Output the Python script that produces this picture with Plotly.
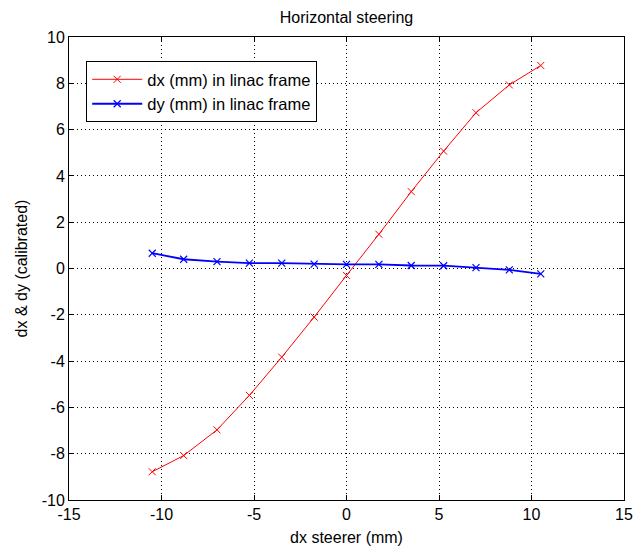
import plotly.graph_objects as go

steerer = [-10.5, -8.8, -7.0, -5.25, -3.5, -1.75, 0.0, 1.75, 3.5, 5.25, 7.0, 8.8, 10.5]
dx_vals = [-8.78, -8.08, -6.97, -5.48, -3.83, -2.1, -0.3, 1.48, 3.32, 5.07, 6.73, 7.93, 8.77]
dy_vals = [0.66, 0.4, 0.3, 0.23, 0.23, 0.19, 0.18, 0.18, 0.13, 0.12, 0.04, -0.06, -0.23]
x_ticks = [-15, -10, -5, 0, 5, 10, 15]
y_ticks = [-10, -8, -6, -4, -2, 0, 2, 4, 6, 8, 10]

font = "Liberation Sans, Arial, sans-serif"
FS = 16

fig = go.Figure()
fig.add_trace(go.Scatter(x=steerer, y=dx_vals, mode="lines+markers",
                         name="dx (mm) in linac frame",
                         line=dict(color="#ff0000", width=1),
                         marker=dict(symbol="x-thin", size=7, line=dict(color="#ff0000", width=1))))
fig.add_trace(go.Scatter(x=steerer, y=dy_vals, mode="lines+markers",
                         name="dy (mm) in linac frame",
                         line=dict(color="#0000ff", width=1.8),
                         marker=dict(symbol="x-thin", size=7, line=dict(color="#0000ff", width=1.2))))

axis_common = dict(showline=True, linecolor="black", linewidth=1, mirror="allticks",
                   ticks="inside", ticklen=5, tickcolor="black",
                   showgrid=True, gridcolor="black", gridwidth=1, griddash="1px,3px",
                   zeroline=False, ticklabeloverflow="allow",
                   tickfont=dict(family=font, size=FS, color="black"))

fig.update_xaxes(range=[-15, 15], tickvals=x_ticks, ticktext=[str(v) for v in x_ticks],
                 title=dict(text="dx steerer (mm)", font=dict(family=font, size=FS, color="black"), standoff=9),
                 **axis_common)
fig.update_yaxes(range=[-10, 10], tickvals=y_ticks, ticktext=[str(v) for v in y_ticks],
                 title=dict(text="dx &amp; dy (calibrated)", font=dict(family=font, size=FS, color="black"), standoff=10),
                 **axis_common)

fig.update_layout(
    width=640, height=550,
    margin=dict(l=69, r=7, t=37, b=47),
    paper_bgcolor="white", plot_bgcolor="white",
    title=dict(text="Horizontal steering", x=0.5, xanchor="center", xref="paper",
               y=1 - 17 / 550, yref="container", yanchor="middle",
               font=dict(family=font, size=FS, color="black")),
    legend=dict(x=0.031, y=0.948, xanchor="left", yanchor="top",
                bgcolor="white", bordercolor="black", borderwidth=1,
                font=dict(family=font, size=16.5, color="black"),
                itemwidth=50, tracegroupgap=0),
    showlegend=True,
)

fig.write_html("out.html")
